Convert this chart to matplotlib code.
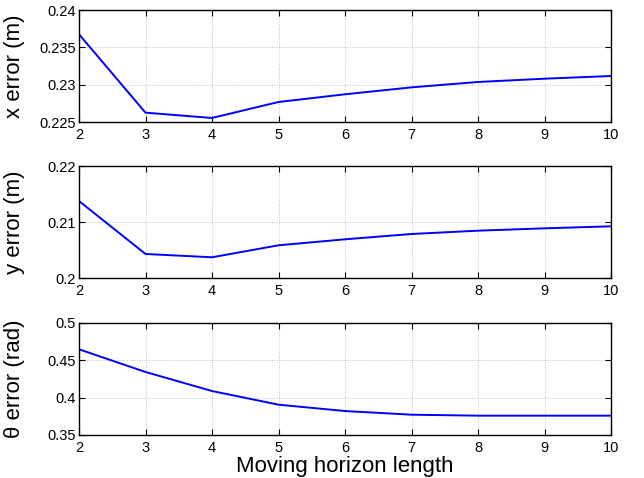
import matplotlib
matplotlib.use("Agg")
import matplotlib.pyplot as plt

horizon = [2, 3, 4, 5, 6, 7, 8, 9, 10]
x_err = [0.23675, 0.22625, 0.22554, 0.22768, 0.22871, 0.22964, 0.23036, 0.2308, 0.23116]
y_err = [0.21375, 0.20429, 0.2037, 0.20584, 0.20691, 0.20786, 0.20845, 0.20887, 0.20923]
th_err = [0.4648, 0.4344, 0.4089, 0.3906, 0.3821, 0.3772, 0.3759, 0.3759, 0.3759]

x_ticks = [2, 3, 4, 5, 6, 7, 8, 9, 10]
panels = [
    (x_err, (0.225, 0.24), [0.225, 0.23, 0.235, 0.24], ["0.225", "0.23", "0.235", "0.24"], "x error (m)"),
    (y_err, (0.2, 0.22), [0.2, 0.21, 0.22], ["0.2", "0.21", "0.22"], "y error (m)"),
    (th_err, (0.35, 0.5), [0.35, 0.4, 0.45, 0.5], ["0.35", "0.4", "0.45", "0.5"], "\u03b8 error (rad)"),
]

plt.rcParams['font.family'] = ['Liberation Sans', 'DejaVu Sans']

W, H = 644, 478
fig = plt.figure(figsize=(W / 100, H / 100), dpi=100)
tops = [10, 166, 323]
left, right = 79, 611
ph = 112

for (vals, ylim, yt, ytl, lab), top in zip(panels, tops):
    ax = fig.add_axes([left / W, 1 - (top + ph) / H, (right - left) / W, ph / H])
    ax.plot(horizon, vals, color='#0000ff', lw=1.4)
    ax.set_xlim(2, 10)
    ax.set_ylim(*ylim)
    ax.set_xticks(x_ticks)
    ax.set_yticks(yt)
    ax.set_yticklabels(ytl)
    ax.tick_params(direction='in', top=True, right=True, labelsize=10.5, length=4, width=0.8)
    ax.tick_params(axis='x', pad=4)
    ax.tick_params(axis='y', pad=2)
    ax.grid(True, color='#aaaaaa', linestyle=(0, (1, 2)), linewidth=0.6)
    for s in ax.spines.values():
        s.set_linewidth(1.0)
    ax.set_ylabel(lab, fontsize=16, labelpad=4)
    ax.yaxis.set_label_coords(-0.102, 0.5)

ax.set_xlabel("Moving horizon length", fontsize=16, labelpad=1)

fig.savefig("out.png", dpi=100)
